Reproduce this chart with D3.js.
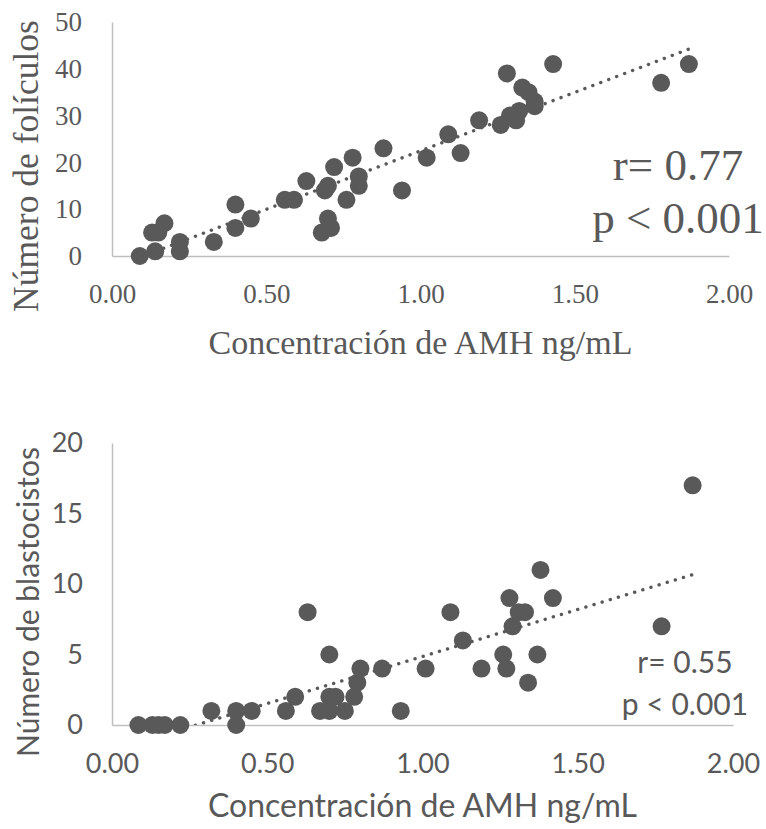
<!DOCTYPE html>
<html>
<head>
<meta charset="utf-8">
<script src="https://cdn.jsdelivr.net/npm/d3@7"></script>
<style>
  body { margin: 0; background: #fff; }
  svg { display: block; }
</style>
</head>
<body>
<div id="root"></div>
<script>
// AMH concentration (ng/mL) vs number of follicles
const follX = [0.09, 0.14, 0.13, 0.15, 0.17, 0.22, 0.22, 0.33, 0.40, 0.40, 0.45, 0.56, 0.59, 0.63, 0.69,
    0.70, 0.72, 0.70, 0.68, 0.71, 0.76, 0.78, 0.80, 0.80, 0.88, 0.94, 1.02, 1.09, 1.13, 1.19,
    1.26, 1.28, 1.29, 1.31, 1.32, 1.33, 1.35, 1.37, 1.37, 1.43, 1.78, 1.87]
const follY = [0, 1, 5, 5, 7, 1, 3, 3, 6, 11, 8, 12, 12, 16, 14,
    15, 19, 8, 5, 6, 12, 21, 17, 15, 23, 14, 21, 26, 22, 29,
    28, 39, 30, 29, 31, 36, 35, 33, 32, 41, 37, 41]

// AMH concentration (ng/mL) vs number of blastocysts
const blastX = [0.085, 0.13, 0.15, 0.17, 0.22, 0.32, 0.40, 0.40, 0.45, 0.56, 0.59, 0.63, 0.67,
    0.70, 0.70, 0.72, 0.70, 0.75, 0.78, 0.79, 0.80, 0.87, 0.93, 1.01, 1.09, 1.13, 1.19,
    1.26, 1.27, 1.28, 1.29, 1.31, 1.33, 1.34, 1.37, 1.38, 1.42, 1.77, 1.87]
const blastY = [0, 0, 0, 0, 0, 1, 0, 1, 1, 1, 2, 8, 1,
    2, 5, 2, 1, 1, 2, 3, 4, 4, 1, 4, 8, 6, 4,
    5, 4, 9, 7, 8, 8, 3, 5, 11, 9, 7, 17]

const xTicks = [0, 0.5, 1, 1.5, 2]
const follTicks = [0, 10, 20, 30, 40, 50]
const blastTicks = [0, 5, 10, 15, 20]

const xTitle = "Concentración de AMH ng/mL"
const follTitle = "Número de folículos"
const blastTitle = "Número de blastocistos"
const follStats = ["r= 0.77", "p < 0.001"]
const blastStats = ["r= 0.55", "p < 0.001"]

const w = 766, h = 829
const ink = "#595959", axisColor = "#bfbfbf"

const svg = d3.select("#root").append("svg")
    .attr("width", w)
    .attr("height", h)
    .attr("viewBox", '0 0 ' + w + ' ' + h)

// top panel: serif text, like the Times original
drawPanel({
    id: "foll",
    xs: follX, ys: follY,
    yTicks: follTicks, yMax: 50,
    left: 112, right: 729, top: 22, bottom: 256,
    font: "'Liberation Serif', 'Times New Roman', serif",
    tickSize: 27, titleSize: 34, yTitleSize: 35.5, statSize: 45,
    xTickBase: 303, yTickRight: 82,
    xTitleBase: 354, yTitleX: 26, yTitleMid: 166,
    yTitle: follTitle,
    stats: follStats, statX: 678, statBase: [180, 233]
})

// bottom panel: sans text, like the Calibri original
drawPanel({
    id: "blast",
    xs: blastX, ys: blastY,
    yTicks: blastTicks, yMax: 20,
    left: 112, right: 733, top: 443, bottom: 725,
    font: "Lato, 'Open Sans', sans-serif",
    tickSize: 27, titleSize: 32, yTitleSize: 30, statSize: 30,
    xTickBase: 773, yTickRight: 83,
    xTitleBase: 817, yTitleX: 27, yTitleMid: 602,
    yTitle: blastTitle,
    stats: blastStats, statX: 685, statBase: [673, 715]
})

function drawPanel(c) {
    const x = d3.scaleLinear().domain([0, 2]).range([c.left, c.right])
    const y = d3.scaleLinear().domain([0, c.yMax]).range([c.bottom, c.top])

    const g = svg.append("g").attr("class", c.id)
        .attr("fill", ink)

    g.append("clipPath").attr("id", "clip-" + c.id)
        .append("rect")
        .attr("x", c.left).attr("y", c.top)
        .attr("width", c.right - c.left).attr("height", c.bottom - c.top)

    // axes, no ticks
    const xAxis = g.append("g")
        .attr("transform", "translate(0," + c.bottom + ")")
        .call(d3.axisBottom(x).tickValues(xTicks).tickSize(0).tickFormat(d3.format(".2f")))
    xAxis.select(".domain").attr("stroke", axisColor).attr("stroke-width", 1.5)
    xAxis.selectAll("text")
        .attr("fill", ink)
        .attr("font-family", c.font)
        .attr("font-size", c.tickSize)
        .attr("dy", null)
        .attr("y", c.xTickBase - c.bottom)

    const yAxis = g.append("g")
        .attr("transform", "translate(" + c.left + ",0)")
        .call(d3.axisLeft(y).tickValues(c.yTicks).tickSize(0))
    yAxis.select(".domain").attr("stroke", axisColor).attr("stroke-width", 1.5)
    yAxis.selectAll("text")
        .attr("fill", ink)
        .attr("font-family", c.font)
        .attr("font-size", c.tickSize)
        .attr("x", c.yTickRight - c.left)

    // linear trendline from least squares, over the data's x range
    const mx = d3.mean(c.xs), my = d3.mean(c.ys)
    let sxy = 0, sxx = 0
    c.xs.forEach((v, i) => {
        sxy += (v - mx) * (c.ys[i] - my)
        sxx += (v - mx) * (v - mx)
    })
    const slope = sxy / sxx, icpt = my - slope * mx
    const ext = d3.extent(c.xs)
    g.append("line")
        .attr("clip-path", "url(#clip-" + c.id + ")")
        .attr("x1", x(ext[0])).attr("y1", y(icpt + slope * ext[0]))
        .attr("x2", x(ext[1])).attr("y2", y(icpt + slope * ext[1]))
        .attr("stroke", ink)
        .attr("stroke-width", 3.4)
        .attr("stroke-linecap", "round")
        .attr("stroke-dasharray", "0.1 8.4")

    // points
    g.selectAll("circle.dot")
        .data(c.xs.map((v, i) => ({x: v, y: c.ys[i]})))
        .join("circle")
        .attr("class", "dot")
        .attr("cx", d => x(d.x))
        .attr("cy", d => y(d.y))
        .attr("r", 9)
        .attr("fill", ink)

    // titles
    g.append("text")
        .attr("x", (c.left + c.right) / 2)
        .attr("y", c.xTitleBase)
        .attr("text-anchor", "middle")
        .attr("font-family", c.font)
        .attr("font-size", c.titleSize)
        .text(xTitle)

    g.append("text")
        .attr("transform", "translate(" + c.yTitleX + "," + c.yTitleMid + ") rotate(-90)")
        .attr("text-anchor", "middle")
        .attr("dominant-baseline", "central")
        .attr("font-family", c.font)
        .attr("font-size", c.yTitleSize)
        .text(c.yTitle)

    // r / p annotation
    g.selectAll("text.stat")
        .data(c.stats)
        .join("text")
        .attr("class", "stat")
        .attr("x", c.statX)
        .attr("y", (d, i) => c.statBase[i])
        .attr("text-anchor", "middle")
        .attr("font-family", c.font)
        .attr("font-size", c.statSize)
        .text(d => d)
}
</script>
</body>
</html>
